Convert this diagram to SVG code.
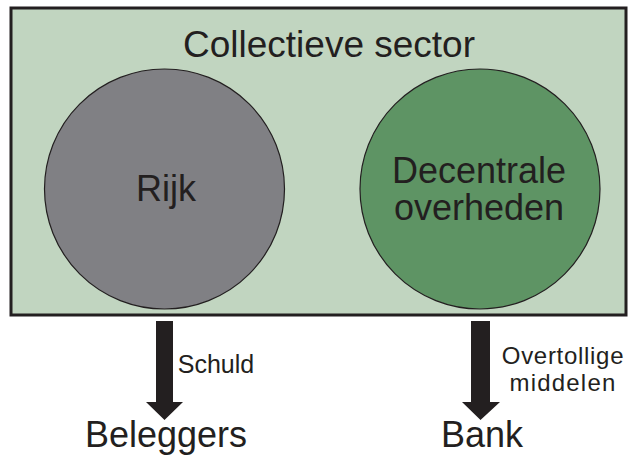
<svg xmlns="http://www.w3.org/2000/svg" width="635" height="457" viewBox="0 0 635 457">
<style>
text{font-family:"Liberation Sans",Arial,sans-serif;fill:#231f20;text-anchor:middle}
.big{font-size:36px}
.lbl{font-size:24px}
.arrow{fill:#231f20}
</style>
<rect width="635" height="457" fill="#ffffff"/>
<g id="sector">
<rect x="11" y="8" width="615" height="307" fill="#c1d5c0" stroke="#231f20" stroke-width="3"/>
<text class="big" x="329" y="57" style="font-size:37px">Collectieve sector</text>
</g>
<g id="rijk">
<circle cx="164.5" cy="189" r="120" fill="#808084" stroke="#231f20" stroke-width="1.2"/>
<text class="big" x="166" y="201">Rijk</text>
</g>
<g id="decentrale">
<circle cx="480" cy="189" r="120" fill="#5e9464" stroke="#231f20" stroke-width="1.2"/>
<text class="big" x="479" y="183">Decentrale</text>
<text class="big" x="479" y="220">overheden</text>
</g>
<g id="beleggers">
<text class="big" x="166" y="447">Beleggers</text>
</g>
<g id="bank">
<text class="big" x="482" y="447">Bank</text>
</g>
<g id="connectors">
<path class="arrow" d="M156 321H173V402H183L164.5 420L146 402H156Z"/>
<text class="lbl" x="216" y="373" style="font-size:25px">Schuld</text>
<path class="arrow" d="M471 321H490V402H500L480.5 420L462 402H471Z"/>
<text class="lbl" x="563" y="364" style="letter-spacing:0.7px">Overtollige</text>
<text class="lbl" x="563" y="391" style="letter-spacing:1.2px">middelen</text>
</g>
</svg>
